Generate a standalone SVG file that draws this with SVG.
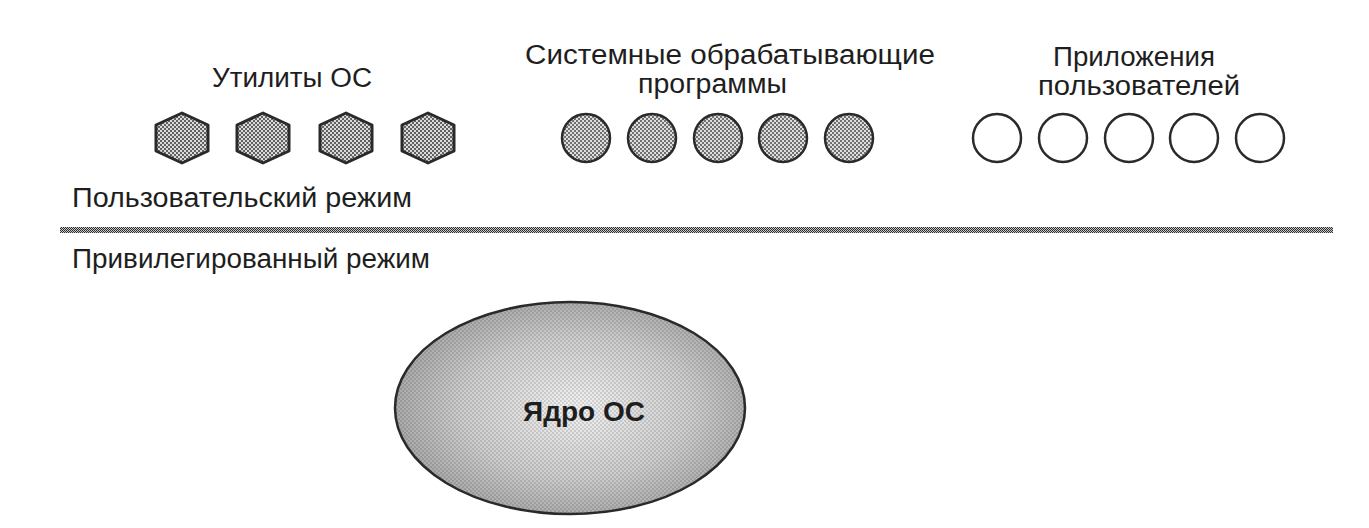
<svg xmlns="http://www.w3.org/2000/svg" width="1369" height="528" viewBox="0 0 1369 528">
  <defs>
    <pattern id="hexFill" width="4" height="4" patternUnits="userSpaceOnUse">
      <rect width="4" height="4" fill="#dadada"/>
      <rect width="2" height="2" fill="#626262"/>
      <rect x="2" y="2" width="2" height="2" fill="#626262"/>
    </pattern>
    <pattern id="circFill" width="4" height="4" patternUnits="userSpaceOnUse">
      <rect width="4" height="4" fill="#dedede"/>
      <rect width="2" height="2" fill="#707070"/>
      <rect x="2" y="2" width="2" height="2" fill="#707070"/>
    </pattern>
    <pattern id="lineFill" width="2" height="2" patternUnits="userSpaceOnUse">
      <rect width="2" height="2" fill="#c8c8c8"/>
      <rect width="1" height="1" fill="#2e2e2e"/>
      <rect x="1" y="1" width="1" height="1" fill="#2e2e2e"/>
    </pattern>
    <pattern id="grain" width="4" height="4" patternUnits="userSpaceOnUse">
      <rect width="2" height="2" fill="#000" fill-opacity="0.12"/>
      <rect x="2" y="2" width="2" height="2" fill="#000" fill-opacity="0.12"/>
    </pattern>
    <radialGradient id="kernelGrad" cx="0.52" cy="0.5" r="0.55">
      <stop offset="0" stop-color="#f2f2f2"/>
      <stop offset="0.6" stop-color="#cecece"/>
      <stop offset="1" stop-color="#a4a4a4"/>
    </radialGradient>
    <polygon id="hex" points="0,-25 26,-13 26,13 0,25 -26,13 -26,-13"/>
  </defs>
  <style>
    text { font-family: "Liberation Sans", Arial, sans-serif; fill: #1e1e1e; font-size: 27px; }
    .hexnode { fill: url(#hexFill); stroke: #2a2a2a; stroke-width: 3; stroke-linejoin: round; }
    .sysnode { fill: url(#circFill); stroke: #2a2a2a; stroke-width: 2.5; }
    .usrnode { fill: #ffffff; stroke: #2a2a2a; stroke-width: 2.5; }
    .kernel { fill: url(#kernelGrad); stroke: none; }
    .kernelGrain { fill: url(#grain); stroke: #2a2a2a; stroke-width: 2.5; }
    .kernelText { font-size: 28px; font-weight: bold; text-anchor: middle; }
  </style>
  <rect width="1369" height="528" fill="#ffffff"/>

  <g id="group-titles">
    <text x="212" y="87" textLength="160" lengthAdjust="spacingAndGlyphs">Утилиты ОС</text>
    <text x="525" y="64" textLength="410" lengthAdjust="spacingAndGlyphs">Системные обрабатывающие</text>
    <text x="638" y="93" textLength="149" lengthAdjust="spacingAndGlyphs">программы</text>
    <text x="1053" y="66" textLength="162" lengthAdjust="spacingAndGlyphs">Приложения</text>
    <text x="1038" y="95" textLength="202" lengthAdjust="spacingAndGlyphs">пользователей</text>
  </g>

  <g id="utilities">
    <use id="util1" href="#hex" class="hexnode" x="182" y="138"/>
    <use id="util2" href="#hex" class="hexnode" x="263" y="138"/>
    <use id="util3" href="#hex" class="hexnode" x="346" y="138"/>
    <use id="util4" href="#hex" class="hexnode" x="428" y="138"/>
  </g>

  <g id="system-programs">
    <circle id="sys1" class="sysnode" cx="586" cy="138" r="24"/>
    <circle id="sys2" class="sysnode" cx="652" cy="138" r="24"/>
    <circle id="sys3" class="sysnode" cx="718" cy="138" r="24"/>
    <circle id="sys4" class="sysnode" cx="783" cy="138" r="24"/>
    <circle id="sys5" class="sysnode" cx="849" cy="138" r="24"/>
  </g>

  <g id="user-apps">
    <circle id="app1" class="usrnode" cx="997" cy="138" r="24"/>
    <circle id="app2" class="usrnode" cx="1063" cy="138" r="24"/>
    <circle id="app3" class="usrnode" cx="1129" cy="138" r="24"/>
    <circle id="app4" class="usrnode" cx="1194" cy="138" r="24"/>
    <circle id="app5" class="usrnode" cx="1260" cy="138" r="24"/>
  </g>

  <g id="mode-boundary">
    <text x="72" y="207" textLength="340" lengthAdjust="spacingAndGlyphs">Пользовательский режим</text>
    <rect x="60" y="227" width="1273" height="6" fill="url(#lineFill)"/>
    <text x="72" y="268" textLength="358" lengthAdjust="spacingAndGlyphs">Привилегированный режим</text>
  </g>

  <g id="kernel">
    <ellipse class="kernel" cx="570" cy="408" rx="175" ry="106"/>
    <ellipse class="kernelGrain" cx="570" cy="408" rx="175" ry="106"/>
    <text class="kernelText" x="584" y="421">Ядро ОС</text>
  </g>

  <g id="connectors"/>
</svg>
